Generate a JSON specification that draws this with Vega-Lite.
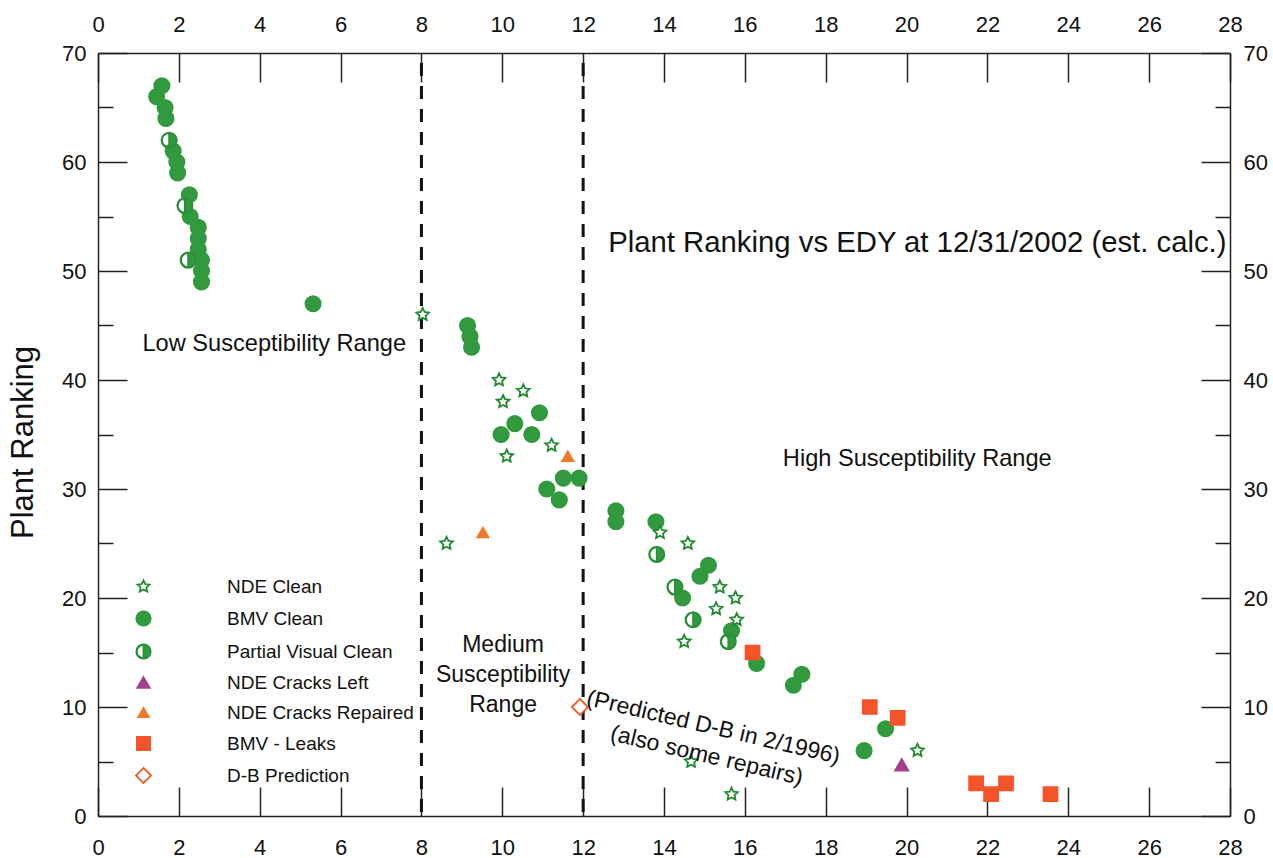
{
  "$schema": "https://vega.github.io/schema/vega-lite/v6.json",
  "width": 1132,
  "height": 763,
  "autosize": "none",
  "padding": {"left": 98, "top": 53, "right": 43, "bottom": 42},
  "background": "white",
  "config": {
    "view": {"stroke": null},
    "font": "Liberation Sans",
    "axis": {
      "grid": false,
      "domainColor": "#222222",
      "domainWidth": 1.5,
      "tickColor": "#222222",
      "tickWidth": 1.5,
      "labelFont": "Liberation Sans",
      "labelFontSize": 22,
      "labelColor": "#111111",
      "titleFont": "Liberation Sans",
      "titleFontWeight": "normal",
      "titleColor": "#111111"
    },
    "legend": {
      "labelFont": "Liberation Sans",
      "labelFontSize": 19,
      "labelColor": "#111111",
      "labelLimit": 400
    }
  },
  "datasets": {
    "bounds": [{"edy": 8}, {"edy": 12}],
    "plants": [
      {"series": "BMV Clean", "edy": 1.58, "rank": 67},
      {"series": "BMV Clean", "edy": 1.45, "rank": 66},
      {"series": "BMV Clean", "edy": 1.66, "rank": 65},
      {"series": "BMV Clean", "edy": 1.68, "rank": 64},
      {"series": "BMV Clean", "edy": 1.86, "rank": 61},
      {"series": "BMV Clean", "edy": 1.95, "rank": 60},
      {"series": "BMV Clean", "edy": 1.97, "rank": 59},
      {"series": "BMV Clean", "edy": 2.26, "rank": 57},
      {"series": "BMV Clean", "edy": 2.28, "rank": 55},
      {"series": "BMV Clean", "edy": 2.48, "rank": 54},
      {"series": "BMV Clean", "edy": 2.48, "rank": 53},
      {"series": "BMV Clean", "edy": 2.48, "rank": 52},
      {"series": "BMV Clean", "edy": 2.56, "rank": 51},
      {"series": "BMV Clean", "edy": 2.56, "rank": 50},
      {"series": "BMV Clean", "edy": 2.56, "rank": 49},
      {"series": "BMV Clean", "edy": 5.32, "rank": 47},
      {"series": "BMV Clean", "edy": 9.14, "rank": 45},
      {"series": "BMV Clean", "edy": 9.2, "rank": 44},
      {"series": "BMV Clean", "edy": 9.24, "rank": 43},
      {"series": "BMV Clean", "edy": 10.92, "rank": 37},
      {"series": "BMV Clean", "edy": 10.31, "rank": 36},
      {"series": "BMV Clean", "edy": 9.97, "rank": 35},
      {"series": "BMV Clean", "edy": 10.73, "rank": 35},
      {"series": "BMV Clean", "edy": 11.51, "rank": 31},
      {"series": "BMV Clean", "edy": 11.9, "rank": 31},
      {"series": "BMV Clean", "edy": 11.1, "rank": 30},
      {"series": "BMV Clean", "edy": 11.41, "rank": 29},
      {"series": "BMV Clean", "edy": 12.81, "rank": 28},
      {"series": "BMV Clean", "edy": 12.81, "rank": 27},
      {"series": "BMV Clean", "edy": 13.8, "rank": 27},
      {"series": "BMV Clean", "edy": 15.1, "rank": 23},
      {"series": "BMV Clean", "edy": 14.89, "rank": 22},
      {"series": "BMV Clean", "edy": 14.46, "rank": 20},
      {"series": "BMV Clean", "edy": 15.67, "rank": 17},
      {"series": "BMV Clean", "edy": 16.29, "rank": 14},
      {"series": "BMV Clean", "edy": 17.41, "rank": 13},
      {"series": "BMV Clean", "edy": 17.2, "rank": 12},
      {"series": "BMV Clean", "edy": 19.48, "rank": 8},
      {"series": "BMV Clean", "edy": 18.95, "rank": 6},
      {"series": "Partial Visual Clean", "edy": 1.76, "rank": 62},
      {"series": "Partial Visual Clean", "edy": 2.15, "rank": 56},
      {"series": "Partial Visual Clean", "edy": 2.23, "rank": 51},
      {"series": "Partial Visual Clean", "edy": 13.82, "rank": 24},
      {"series": "Partial Visual Clean", "edy": 14.27, "rank": 21},
      {"series": "Partial Visual Clean", "edy": 14.72, "rank": 18},
      {"series": "Partial Visual Clean", "edy": 15.59, "rank": 16},
      {"series": "NDE Clean", "edy": 8.03, "rank": 46},
      {"series": "NDE Clean", "edy": 9.92, "rank": 40},
      {"series": "NDE Clean", "edy": 10.02, "rank": 38},
      {"series": "NDE Clean", "edy": 10.52, "rank": 39},
      {"series": "NDE Clean", "edy": 10.11, "rank": 33},
      {"series": "NDE Clean", "edy": 11.22, "rank": 34},
      {"series": "NDE Clean", "edy": 8.62, "rank": 25},
      {"series": "NDE Clean", "edy": 13.9, "rank": 26},
      {"series": "NDE Clean", "edy": 14.59, "rank": 25},
      {"series": "NDE Clean", "edy": 14.5, "rank": 16},
      {"series": "NDE Clean", "edy": 15.38, "rank": 21},
      {"series": "NDE Clean", "edy": 15.77, "rank": 20},
      {"series": "NDE Clean", "edy": 15.29, "rank": 19},
      {"series": "NDE Clean", "edy": 15.8, "rank": 18},
      {"series": "NDE Clean", "edy": 14.67, "rank": 5},
      {"series": "NDE Clean", "edy": 15.67, "rank": 2},
      {"series": "NDE Clean", "edy": 20.27, "rank": 6},
      {"series": "NDE Cracks Left", "edy": 19.88, "rank": 4.7},
      {"series": "NDE Cracks Repaired", "edy": 11.62, "rank": 33},
      {"series": "NDE Cracks Repaired", "edy": 9.52, "rank": 26},
      {"series": "BMV - Leaks", "edy": 16.19, "rank": 15},
      {"series": "BMV - Leaks", "edy": 19.09, "rank": 10},
      {"series": "BMV - Leaks", "edy": 19.78, "rank": 9},
      {"series": "BMV - Leaks", "edy": 21.72, "rank": 3},
      {"series": "BMV - Leaks", "edy": 22.09, "rank": 2},
      {"series": "BMV - Leaks", "edy": 22.46, "rank": 3},
      {"series": "BMV - Leaks", "edy": 23.56, "rank": 2},
      {"series": "D-B Prediction", "edy": 11.92, "rank": 10}
    ]
  },
  "resolve": {"axis": {"x": "independent", "y": "independent"}},
  "layer": [
    {
      "data": {"name": "bounds"},
      "mark": {"type": "rule", "color": "#111111", "strokeWidth": 3, "strokeDash": [13, 10], "strokeDashOffset": -10},
      "encoding": {
        "x": {
          "field": "edy", "type": "quantitative",
          "scale": {"domain": [0, 28], "nice": false, "zero": false},
          "axis": {"orient": "top", "title": null, "values": [0,2,4,6,8,10,12,14,16,18,20,22,24,26,28], "tickSize": -29, "labelPadding": 46, "labelFlush": false}
        }
      }
    },
    {
      "data": {"name": "plants"},
      "mark": {"type": "point", "filled": true, "size": 289, "strokeWidth": 1.8, "opacity": 1, "fillOpacity": 1, "strokeOpacity": 1},
      "encoding": {
        "x": {
          "field": "edy", "type": "quantitative",
          "scale": {"domain": [0, 28], "nice": false, "zero": false},
          "axis": {"orient": "bottom", "title": null, "values": [0,2,4,6,8,10,12,14,16,18,20,22,24,26,28], "tickSize": -29, "labelPadding": 50, "labelFlush": false}
        },
        "y": {
          "field": "rank", "type": "quantitative",
          "scale": {"domain": [0, 70], "nice": false, "zero": false},
          "axis": {"orient": "left", "title": "Plant Ranking", "titleFontSize": 31, "titleX": -66, "titleY": 389, "titleAngle": -90, "titleBaseline": "alphabetic", "titleAlign": "center", "values": [0,10,20,30,40,50,60,70], "tickSize": -29, "labelPadding": 41, "labelFlush": false}
        },
        "shape": {
          "field": "series", "type": "nominal",
          "scale": {
            "domain": ["NDE Clean", "BMV Clean", "Partial Visual Clean", "NDE Cracks Left", "NDE Cracks Repaired", "BMV - Leaks", "D-B Prediction"],
            "range": [
              "M0,-0.78L0.223,-0.307L0.742,-0.241L0.361,0.117L0.459,0.631L0,0.38L-0.459,0.631L-0.361,0.117L-0.742,-0.241L-0.223,-0.307Z",
              "M0.9,0A0.9,0.9,0,1,1,-0.9,0A0.9,0.9,0,1,1,0.9,0Z",
              "M0,-0.9A0.9,0.9,0,0,1,0,0.9A0.9,0.9,0,0,1,0,-0.9ZM0,-0.84A0.84,0.84,0,0,0,0,0.84Z",
              "M0,-0.675L0.78,0.675L-0.78,0.675Z",
              "M0,-0.57L0.66,0.57L-0.66,0.57Z",
              "M-0.82,-0.82L0.82,-0.82L0.82,0.82L-0.82,0.82Z",
              "M0,-0.95L0.95,0L0,0.95L-0.95,0Z"
            ]
          },
          "legend": {"title": null, "orient": "none", "legendX": 36, "legendY": 524, "padding": 0, "labelOffset": 74, "rowPadding": 10, "symbolSize": 256, "symbolStrokeWidth": 1.8, "labelLimit": 400}
        },
        "fill": {
          "field": "series", "type": "nominal",
          "scale": {
            "domain": ["NDE Clean", "BMV Clean", "Partial Visual Clean", "NDE Cracks Left", "NDE Cracks Repaired", "BMV - Leaks", "D-B Prediction"],
            "range": ["#ffffff", "#329a3e", "#329a3e", "#a4418c", "#f07a2a", "#f55328", "#ffffff"]
          }
        },
        "stroke": {
          "field": "series", "type": "nominal",
          "scale": {
            "domain": ["NDE Clean", "BMV Clean", "Partial Visual Clean", "NDE Cracks Left", "NDE Cracks Repaired", "BMV - Leaks", "D-B Prediction"],
            "range": ["#1f8a2e", "#329a3e", "#2a8f37", "#a4418c", "#f07a2a", "#f55328", "#ef5a24"]
          }
        }
      }
    },
    {
      "data": {"values": [{"label": "Plant Ranking vs EDY at 12/31/2002 (est. calc.)", "x": 12.62, "y": 51.77}]},
      "mark": {"type": "text", "align": "left", "baseline": "alphabetic", "fontSize": 29.3, "font": "Liberation Sans", "color": "#111111"},
      "encoding": {
        "text": {"field": "label"},
        "x": {"field": "x", "type": "quantitative", "scale": {"domain": [0, 28], "nice": false, "zero": false}, "axis": null},
        "y": {"field": "y", "type": "quantitative", "scale": {"domain": [0, 70], "nice": false, "zero": false},
          "axis": {"orient": "right", "title": null, "values": [0,10,20,30,40,50,60,70], "tickSize": -29, "labelPadding": 42, "labelFlush": false}}
      }
    },
    {
      "data": {"values": [
        {"label": "Low Susceptibility Range", "x": 1.1, "y": 42.7},
        {"label": "High Susceptibility Range", "x": 16.94, "y": 32.1}
      ]},
      "mark": {"type": "text", "align": "left", "baseline": "alphabetic", "fontSize": 23.6, "font": "Liberation Sans", "color": "#111111"},
      "encoding": {
        "text": {"field": "label"},
        "x": {"field": "x", "type": "quantitative", "scale": {"domain": [0, 28], "nice": false, "zero": false}, "axis": null},
        "y": {"field": "y", "type": "quantitative", "scale": {"domain": [0, 70], "nice": false, "zero": false},
          "axis": {"orient": "left", "title": null, "values": [5,15,25,35,45,55,65], "tickSize": -15, "labels": false, "domain": false}}
      }
    },
    {
      "data": {"values": [{"label": "Medium\nSusceptibility\nRange", "x": 10.02, "y": 15.7}]},
      "mark": {"type": "text", "align": "center", "baseline": "middle", "lineBreak": "\n", "lineHeight": 30, "fontSize": 23, "font": "Liberation Sans", "color": "#111111"},
      "encoding": {
        "text": {"field": "label"},
        "x": {"field": "x", "type": "quantitative", "scale": {"domain": [0, 28], "nice": false, "zero": false}, "axis": null},
        "y": {"field": "y", "type": "quantitative", "scale": {"domain": [0, 70], "nice": false, "zero": false},
          "axis": {"orient": "right", "title": null, "values": [5,15,25,35,45,55,65], "tickSize": -15, "labels": false, "domain": false}}
      }
    },
    {
      "data": {"values": [{"label": "(Predicted D-B in 2/1996)\n(also some repairs)", "x": 15.22, "y": 8.12}]},
      "mark": {"type": "text", "align": "center", "baseline": "middle", "lineBreak": "\n", "lineHeight": 29, "angle": 13.2, "fontSize": 23, "font": "Liberation Sans", "color": "#111111"},
      "encoding": {
        "text": {"field": "label"},
        "x": {"field": "x", "type": "quantitative", "scale": {"domain": [0, 28], "nice": false, "zero": false}, "axis": null},
        "y": {"field": "y", "type": "quantitative", "scale": {"domain": [0, 70], "nice": false, "zero": false}, "axis": null}
      }
    }
  ]
}
